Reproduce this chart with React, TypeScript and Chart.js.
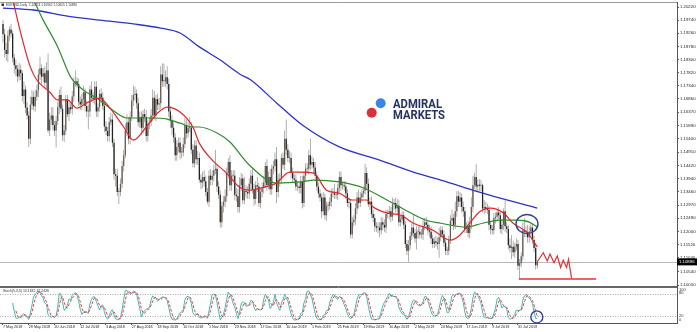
import React, { useEffect, useRef } from "react";
import { Chart, registerables } from "chart.js";

Chart.register(...registerables);

// ---------- DATA ----------
// EURUSD daily bars, 7 May 2018 .. 16 Aug 2019 (one row per week)
const firstOpen = 1.196;
const closes = [
  1.1922, 1.1865, 1.1850, 1.1917, 1.1940,
  1.1925, 1.1836, 1.1809, 1.1795, 1.1768,
  1.1792, 1.1780, 1.1696, 1.1720, 1.1654,
  1.1625, 1.1540, 1.1665, 1.1693, 1.1659,
  1.1694, 1.1717, 1.1775, 1.1798, 1.1767,
  1.1780, 1.1745, 1.1790, 1.1570, 1.1610,
  1.1625, 1.1590, 1.1570, 1.1605, 1.1655,
  1.1700, 1.1650, 1.1553, 1.1570, 1.1685,
  1.1630, 1.1655, 1.1648, 1.1695, 1.1745,
  1.1750, 1.1740, 1.1675, 1.1665, 1.1685,
  1.1710, 1.1660, 1.1640, 1.1640, 1.1720,
  1.1690, 1.1685, 1.1730, 1.1640, 1.1655,
  1.1705, 1.1690, 1.1660, 1.1585, 1.1568,
  1.1550, 1.1600, 1.1610, 1.1525, 1.1410,
  1.1405, 1.1345, 1.1345, 1.1375, 1.1440,
  1.1480, 1.1570, 1.1600, 1.1540, 1.1620,
  1.1680, 1.1700, 1.1705, 1.1670, 1.1600,
  1.1620, 1.1580, 1.1630, 1.1620, 1.1550,
  1.1595, 1.1600, 1.1625, 1.1690, 1.1625,
  1.1685, 1.1665, 1.1670, 1.1775, 1.1750,
  1.1750, 1.1765, 1.1740, 1.1640, 1.1605,
  1.1580, 1.1545, 1.1480, 1.1510, 1.1525,
  1.1490, 1.1490, 1.1520, 1.1590, 1.1560,
  1.1580, 1.1580, 1.1500, 1.1450, 1.1515,
  1.1465, 1.1470, 1.1390, 1.1380, 1.1400,
  1.1385, 1.1345, 1.1310, 1.1405, 1.1390,
  1.1405, 1.1425, 1.1430, 1.1365, 1.1335,
  1.1235, 1.1295, 1.1310, 1.1330, 1.1415,
  1.1455, 1.1370, 1.1405, 1.1405, 1.1335,
  1.1330, 1.1290, 1.1370, 1.1395, 1.1315,
  1.1350, 1.1345, 1.1340, 1.1375, 1.1405,
  1.1355, 1.1320, 1.1370, 1.1365, 1.1305,
  1.1345, 1.1360, 1.1380, 1.1440, 1.1370,
  1.1400, 1.1355, 1.1430, 1.1440,
  1.1465, 1.1345, 1.1390, 1.1395,
  1.1470, 1.1445, 1.1540, 1.1500, 1.1470,
  1.1470, 1.1415, 1.1395, 1.1390, 1.1365,
  1.1365, 1.1360, 1.1385, 1.1305, 1.1405,
  1.1430, 1.1430, 1.1480, 1.1445, 1.1455,
  1.1435, 1.1405, 1.1365, 1.1340, 1.1325,
  1.1275, 1.1325, 1.1260, 1.1295, 1.1295,
  1.1310, 1.1340, 1.1340, 1.1335, 1.1335,
  1.1360, 1.1400, 1.1370, 1.1370, 1.1365,
  1.1340, 1.1305, 1.1305, 1.1190, 1.1235,
  1.1245, 1.1285, 1.1325, 1.1305, 1.1325,
  1.1340, 1.1350, 1.1415, 1.1375, 1.1300,
  1.1310, 1.1265, 1.1250, 1.1220, 1.1215,
  1.1215, 1.1205, 1.1235, 1.1225, 1.1215,
  1.1265, 1.1265, 1.1275, 1.1255, 1.1300,
  1.1305, 1.1285, 1.1295, 1.1235, 1.1245,
  1.1260, 1.1225, 1.1155, 1.1130, 1.1150,
  1.1185, 1.1215, 1.1195, 1.1175, 1.1200,
  1.1200, 1.1190, 1.1190, 1.1220, 1.1235,
  1.1225, 1.1205, 1.1200, 1.1175, 1.1155,
  1.1165, 1.1160, 1.1155, 1.1180, 1.1205,
  1.1190, 1.1160, 1.1130, 1.1130, 1.1170,
  1.1240, 1.1250, 1.1225, 1.1275, 1.1330,
  1.1310, 1.1325, 1.1290, 1.1275, 1.1210,
  1.1220, 1.1195, 1.1225, 1.1290, 1.1370,
  1.1400, 1.1365, 1.1372, 1.1368, 1.1370,
  1.1285, 1.1290, 1.1283, 1.1280, 1.1225,
  1.1210, 1.1205, 1.1250, 1.1255, 1.1270,
  1.1260, 1.1210, 1.1225, 1.1275, 1.1220,
  1.1210, 1.1150, 1.1140, 1.1145, 1.1125,
  1.1145, 1.1155, 1.1075, 1.1085, 1.1110,
  1.1205, 1.1200, 1.1200, 1.1180, 1.1200,
  1.1215, 1.1170, 1.1140, 1.1077, 1.1090,
];

// wick lengths in pips above max(open,close) / below min(open,close)
const upperWick = [
  15, 20, 25, 18, 12,  20, 10, 15, 20, 15,  25, 20, 10, 30, 15,  20, 15, 30, 25, 20,
  25, 20, 20, 42, 15,  20, 25, 30, 62, 25,  30, 30, 15, 20, 20,  20, 30, 15, 20, 15,
  15, 20, 15, 20, 20,  40, 15, 20, 20, 20,  25, 15, 20, 25, 15,  30, 20, 20, 20, 15,
  15, 20, 20, 15, 20,  15, 20, 25, 20, 15,  20, 25, 15, 20, 20,  20, 25, 30, 20, 20,
  20, 35, 25, 15, 20,  20, 20, 15, 20, 25,  15, 20, 25, 30, 25,  15, 20, 20, 30, 40,
  65, 25, 40, 20, 20,  20, 20, 15, 25, 20,  20, 20, 25, 25, 20,  20, 40, 20, 20, 20,
  20, 25, 20, 20, 20,  25, 20, 15, 20, 25,  20, 20, 70, 15, 20,  15, 15, 20, 25, 20,
  15, 25, 20, 20, 20,  25, 25, 30, 20, 15,  50, 20, 20, 20, 20,  30, 20, 15, 30, 15,
  15, 20, 25, 15, 25,  20, 30, 15, 20,  25, 45, 20, 20,
  15, 20, 30, 70, 20,  25, 20, 20, 15, 20,  20, 15, 20, 20, 15,  20, 20, 20, 60, 20,
  15, 20, 15, 15, 15,  15, 20, 15, 15, 15,  15, 15, 20, 35, 15,  15, 20, 20, 15, 15,
  20, 15, 20, 15, 20,  15, 20, 20, 30, 20,  15, 15, 33, 20, 20,  15, 20, 15, 15, 15,
  20, 20, 20, 15, 20,  15, 15, 20, 15, 25,  15, 20, 25, 20, 15,  15, 15, 15, 15, 20,
  15, 15, 50, 15, 20,  20, 20, 20, 30, 15,  20, 15, 20, 20, 15,  15, 20, 20, 35, 15,
  15, 15, 15, 15, 15,  20, 30, 15, 35, 18,  20, 20, 15, 20, 15,  15, 20, 30, 35, 35,
  15, 47, 20, 20, 20,  5, 25, 20, 20, 15,  15, 15, 20, 15, 15,  20, 15, 20, 10, 40,
  15, 15, 25, 42, 20,  15, 20, 15, 15, 15,  30, 45, 20, 25, 20,  20, 15, 15, 15, 6,
];
const lowerWick = [
  30, 27, 25, 30, 20,  15, 15, 30, 25, 20,  15, 25, 20, 30, 20,  15, 30, 20, 20, 15,
  20, 15, 25, 20, 30,  20, 20, 20, 8, 20,  20, 20, 20, 62, 15,  25, 10, 20, 25, 15,
  10, 25, 15, 20, 20,  15, 15, 15, 20, 20,  20, 20, 20, 65, 20,  15, 15, 20, 20, 20,
  15, 20, 15, 20, 15,  20, 20, 10, 15, 20,  40, 15, 44, 15, 15,  20, 10, 20, 20, 20,
  15, 20, 20, 20, 15,  20, 25, 20, 20, 20,  20, 20, 15, 20, 15,  20, 20, 20, 20, 20,
  20, 20, 20, 20, 25,  25, 20, 20, 20, 20,  25, 20, 15, 15, 20,  15, 15, 15, 15, 15,
  20, 20, 10, 25, 20,  20, 15, 10, 20, 20,  20, 20, 15, 20, 15,  20, 20, 25, 20, 20,
  20, 20, 20, 15, 20,  20, 20, 20, 20, 15,  15, 20, 20, 20, 20,  15, 25, 20, 20, 15,
  20, 20, 20, 20, 20,  15, 20, 20, 20,  20, 40, 20, 25,
  20, 15, 20, 20, 15,  20, 20, 15, 15, 15,  15, 20, 20, 20, 15,  20, 15, 20, 20, 15,
  20, 20, 15, 15, 15,  25, 15, 15, 20, 20,  15, 20, 15, 15, 15,  20, 15, 20, 15, 15,
  20, 15, 20, 14, 15,  15, 20, 20, 20, 15,  15, 15, 15, 20, 10,  20, 15, 15, 20, 15,
  20, 25, 15, 20, 15,  20, 15, 20, 20, 15,  20, 15, 20, 15, 15,  15, 15, 15, 15, 40,
  15, 15, 15, 15, 40,  25, 15, 15, 20, 15,  15, 15, 20, 20, 15,  15, 15, 20, 50, 15,
  15, 15, 15, 15, 15,  15, 15, 20, 15, 20,  20, 20, 20, 20, 15,  15, 15, 20, 15, 20,
  15, 20, 20, 20, 20,  15, 20, 15, 15, 20,  20, 15, 15, 20, 15,  15, 15, 20, 20, 20,
  15, 15, 15, 40, 15,  20, 15, 15, 48, 15,  15, 20, 20, 20, 20,  15, 15, 15, 15, 11,
];

// moving averages: [bar index, price]
const maRed = [
  [3, 1.2103], [6, 1.2048], [11, 1.1927], [17, 1.1802], [21, 1.1755], [29, 1.1711],
  [34, 1.1682], [40, 1.1682], [46, 1.1652], [52, 1.1671], [60, 1.1689], [66, 1.1656],
  [75, 1.1583], [81, 1.1535], [89, 1.1583], [96, 1.1634], [102, 1.1656], [110, 1.1638],
  [118, 1.1583], [122, 1.1524], [130, 1.1462], [139, 1.1414], [147, 1.1363], [153, 1.1352],
  [160, 1.1360], [170, 1.1378], [178, 1.1418], [184, 1.1418], [193, 1.1414], [201, 1.1352],
  [209, 1.1341], [217, 1.1316], [226, 1.1316], [230, 1.1290], [239, 1.1268], [247, 1.1261],
  [255, 1.1231], [267, 1.1206], [278, 1.1169], [284, 1.1188], [290, 1.1231], [296, 1.1272],
  [303, 1.1286], [311, 1.1268], [317, 1.1231], [326, 1.1195], [332, 1.1144],
];
const maGreen = [
  [15, 1.2092], [19, 1.2048], [25, 1.1974], [34, 1.1876], [42, 1.1766], [50, 1.1718],
  [60, 1.1682], [68, 1.1645], [77, 1.1616], [85, 1.1616], [93, 1.1616], [102, 1.1612],
  [110, 1.1597], [118, 1.1583], [122, 1.1583], [133, 1.1561], [141, 1.1528], [153, 1.1444],
  [170, 1.1378], [185, 1.1382], [193, 1.1389], [209, 1.1382], [224, 1.1360], [242, 1.1305],
  [263, 1.1242], [272, 1.1231], [288, 1.1217], [298, 1.1231], [309, 1.1242], [319, 1.1242],
  [327, 1.1235], [332, 1.1217],
];
const maBlue = [
  [0, 1.2018], [19, 1.2011], [40, 1.1989], [60, 1.1974], [81, 1.1960], [98, 1.1945],
  [110, 1.1927], [122, 1.1876], [135, 1.1828], [147, 1.1777], [154, 1.1755], [170, 1.1671],
  [186, 1.1590], [209, 1.1510], [234, 1.1462], [255, 1.1418], [272, 1.1389], [296, 1.1345],
  [313, 1.1316], [332, 1.1286],
];

// hand-drawn projection and support
const projection = [
  [332, 1.1090], [335.7, 1.1123], [338.2, 1.1093], [339.9, 1.1118], [342.4, 1.1086],
  [344.4, 1.1111], [346.5, 1.1069], [348.1, 1.1096], [350.2, 1.1069], [351.4, 1.1099],
  [353.3, 1.1029],
];
const support = [[320.6, 1.1027], [368.6, 1.1027]];
const ellipseNote = { idx: 325.6, price: 1.1228, halfBars: 6.8, halfPrice: 0.0035 };
const stochNote = { idx: 331.7, value: 17 };

const bidPrice = 1.10896;
const titleText = "EURUSD,Daily  1.10774 1.10962 1.10655 1.10896";
const stochText = "Stoch(5,3,3) 13.1632 12.2426";

const xTickIdx = [0, 16, 32, 48, 64, 80, 96, 112, 128, 144, 160, 176, 192, 208, 224, 240, 256, 272, 288, 304, 320];
const xTickLabels = [
  "7 May 2018", "29 May 2018", "20 Jun 2018", "12 Jul 2018", "3 Aug 2018", "27 Aug 2018",
  "18 Sep 2018", "10 Oct 2018", "1 Nov 2018", "23 Nov 2018", "17 Dec 2018", "10 Jan 2019",
  "1 Feb 2019", "25 Feb 2019", "19 Mar 2019", "10 Apr 2019", "2 May 2019", "24 May 2019",
  "17 Jun 2019", "9 Jul 2019", "31 Jul 2019",
];
const yTickValues = [
  1.2022, 1.1974, 1.1926, 1.1878, 1.183, 1.1782, 1.1734, 1.1686, 1.1637, 1.1589, 1.154,
  1.1491, 1.1442, 1.1394, 1.1346, 1.1297, 1.1249, 1.12, 1.1152, 1.1104, 1.1054, 1.1005,
];
const stochLevels = [100, 80, 20, 0];

// ---------- LAYOUT / STYLE ----------
const X_MIN = -1.864;
const X_MAX = 418.8;
const P_MIN = 1.09977;
const P_MAX = 1.20403;
const FONT = "'Liberation Sans', Arial, sans-serif";
const AXIS = "#555";

function buildOHLC() {
  const opens = closes.map((c, i) => (i === 0 ? firstOpen : closes[i - 1]));
  const highs = closes.map((c, i) => Math.max(opens[i], c) + upperWick[i] * 0.0001);
  const lows = closes.map((c, i) => Math.min(opens[i], c) - lowerWick[i] * 0.0001);
  return { opens, highs, lows };
}

function stochastic(h: number[], l: number[], c: number[], kp: number, slow: number, dp: number) {
  const n = c.length;
  const k: (number | null)[] = new Array(n).fill(null);
  const d: (number | null)[] = new Array(n).fill(null);
  for (let i = kp + slow - 2; i < n; i++) {
    let num = 0, den = 0;
    for (let j = i - slow + 1; j <= i; j++) {
      let hh = -Infinity, ll = Infinity;
      for (let m = j - kp + 1; m <= j; m++) {
        hh = Math.max(hh, h[m]);
        ll = Math.min(ll, l[m]);
      }
      num += c[j] - ll;
      den += hh - ll;
    }
    k[i] = den === 0 ? 100 : (num / den) * 100;
  }
  for (let i = dp - 1; i < n; i++) {
    let ok = true, s = 0;
    for (let j = i - dp + 1; j <= i; j++) {
      if (k[j] == null) ok = false; else s += k[j] as number;
    }
    if (ok) d[i] = s / dp;
  }
  return { k, d };
}

const toPts = (arr: number[][]) => arr.map(([x, y]) => ({ x, y }));

export default function App() {
  const mainRef = useRef<HTMLCanvasElement>(null);
  const subRef = useRef<HTMLCanvasElement>(null);

  useEffect(() => {
    const { opens, highs, lows } = buildOHLC();
    const bodies = closes.map((c, i) => ({ x: i, y: [opens[i], c] }));
    const wicks = closes.map((c, i) => ({ x: i, y: [lows[i], highs[i]] }));
    const bodyColors = closes.map((c, i) => (c >= opens[i] ? "#6a5a50" : "#222222"));
    const { k, d } = stochastic(highs, lows, closes, 5, 3, 3);

    const mainDecor = {
      id: "mainDecor",
      beforeDatasetsDraw(chart: any) {
        const { ctx, chartArea: a, scales } = chart;
        ctx.save();
        // logo
        ctx.fillStyle = "#3a86e6";
        ctx.beginPath(); ctx.arc(380.7, 103.3, 5, 0, Math.PI * 2); ctx.fill();
        ctx.fillStyle = "#d8313b";
        ctx.beginPath(); ctx.arc(371.7, 112.7, 5, 0, Math.PI * 2); ctx.fill();
        ctx.fillStyle = "#26335f";
        ctx.font = "bold 13.5px Roboto, 'Liberation Sans', sans-serif";
        ctx.textBaseline = "alphabetic";
        ctx.textAlign = "left";
        ctx.fillText("ADMIRAL", 393, 108, 49);
        ctx.fillText("MARKETS", 393, 118.5, 52);
        // bid line
        const by = Math.round(scales.y.getPixelForValue(bidPrice)) + 0.5;
        ctx.strokeStyle = "#b8b8b8";
        ctx.lineWidth = 1;
        ctx.beginPath(); ctx.moveTo(a.left, by); ctx.lineTo(a.right, by); ctx.stroke();
        ctx.restore();
      },
      afterDatasetsDraw(chart: any) {
        const { ctx, scales } = chart;
        const cx = scales.x.getPixelForValue(ellipseNote.idx);
        const cy = scales.y.getPixelForValue(ellipseNote.price);
        const rx = scales.x.getPixelForValue(ellipseNote.idx + ellipseNote.halfBars) - cx;
        const ry = scales.y.getPixelForValue(ellipseNote.price - ellipseNote.halfPrice) - cy;
        ctx.save();
        ctx.strokeStyle = "#2f3f9c";
        ctx.lineWidth = 1.4;
        ctx.beginPath(); ctx.ellipse(cx, cy, Math.abs(rx), Math.abs(ry), 0, 0, Math.PI * 2); ctx.stroke();
        ctx.restore();
      },
      afterDraw(chart: any) {
        const { ctx, chartArea: a, scales } = chart;
        ctx.save();
        ctx.lineWidth = 1;
        ctx.strokeStyle = "#9a9a9a";
        ctx.beginPath(); ctx.moveTo(0, a.top + 0.5); ctx.lineTo(a.right, a.top + 0.5); ctx.stroke();
        ctx.strokeStyle = "#666";
        ctx.beginPath(); ctx.moveTo(0, a.bottom - 0.5); ctx.lineTo(a.right, a.bottom - 0.5); ctx.stroke();
        // title
        ctx.fillStyle = "#333";
        ctx.fillRect(1.5, 3.5, 2.5, 2.5);
        ctx.font = `3.8px ${FONT}`;
        ctx.textBaseline = "middle";
        ctx.textAlign = "left";
        ctx.fillText(titleText, 6, 5, 71);
        // price box
        const by = scales.y.getPixelForValue(bidPrice);
        ctx.fillStyle = "#000";
        ctx.fillRect(a.right, by - 3.5, 20, 7);
        ctx.fillStyle = "#fff";
        ctx.font = `4.3px ${FONT}`;
        ctx.fillText(bidPrice.toFixed(5), a.right + 2, by + 0.3);
        ctx.restore();
      },
    };

    const main = new Chart(mainRef.current as HTMLCanvasElement, {
      type: "bar",
      data: {
        datasets: [
          { type: "line", label: "projection", data: toPts(projection), borderColor: "#e0353b", borderWidth: 1.2, pointRadius: 0, tension: 0, order: 0 },
          { type: "line", label: "support", data: toPts(support), borderColor: "#e0353b", borderWidth: 1.6, pointRadius: 0, order: 0 },
          { type: "line", label: "MA fast", data: toPts(maRed), borderColor: "#e3262b", borderWidth: 1.2, pointRadius: 0, cubicInterpolationMode: "monotone", order: 1 },
          { type: "line", label: "MA mid", data: toPts(maGreen), borderColor: "#2e8b2e", borderWidth: 1.2, pointRadius: 0, cubicInterpolationMode: "monotone", order: 2 },
          { type: "line", label: "MA slow", data: toPts(maBlue), borderColor: "#2b33c8", borderWidth: 1.3, pointRadius: 0, cubicInterpolationMode: "monotone", order: 3 },
          { type: "bar", label: "bodies", data: bodies, backgroundColor: bodyColors, borderWidth: 0, grouped: false, categoryPercentage: 1, barPercentage: 0.8, minBarLength: 1, order: 4 },
          { type: "bar", label: "wicks", data: wicks, backgroundColor: "#9c9c9c", borderWidth: 0, grouped: false, categoryPercentage: 1, barPercentage: 0.5, order: 5 },
        ] as any,
      },
      options: {
        responsive: false,
        animation: false,
        devicePixelRatio: 1,
        events: [],
        layout: { padding: { top: 2, left: 0, right: 0, bottom: 0 } },
        plugins: { legend: { display: false }, tooltip: { enabled: false } },
        scales: {
          x: { type: "linear", min: X_MIN, max: X_MAX, offset: false, display: false },
          y: {
            type: "linear",
            position: "right",
            min: P_MIN,
            max: P_MAX,
            afterBuildTicks: (s: any) => { s.ticks = yTickValues.map((v) => ({ value: v })); },
            afterFit: (s: any) => { s.width = 23; s.paddingTop = 0; s.paddingBottom = 0; },
            ticks: { autoSkip: false, padding: 1, color: "#222", font: { family: FONT, size: 4.3 }, callback: (v: any) => Number(v).toFixed(5) },
            grid: { drawOnChartArea: false, drawTicks: true, tickLength: 2, color: AXIS },
            border: { display: true, color: AXIS },
          },
        },
      } as any,
      plugins: [mainDecor],
    });

    const stochDecor = {
      id: "stochDecor",
      beforeDatasetsDraw(chart: any) {
        const { ctx, chartArea: a, scales } = chart;
        ctx.save();
        ctx.strokeStyle = "#a8a8a8";
        ctx.lineWidth = 1;
        ctx.setLineDash([1, 1.5]);
        [80, 20].forEach((lv) => {
          const yy = Math.round(scales.y.getPixelForValue(lv)) + 0.5;
          ctx.beginPath(); ctx.moveTo(a.left, yy); ctx.lineTo(a.right, yy); ctx.stroke();
        });
        ctx.restore();
      },
      afterDatasetsDraw(chart: any) {
        const { ctx, scales } = chart;
        ctx.save();
        ctx.strokeStyle = "#2f3f9c";
        ctx.lineWidth = 1.4;
        ctx.beginPath();
        ctx.arc(scales.x.getPixelForValue(stochNote.idx), scales.y.getPixelForValue(stochNote.value), 6, 0, Math.PI * 2);
        ctx.stroke();
        ctx.restore();
      },
      afterDraw(chart: any) {
        const { ctx, chartArea: a, scales } = chart;
        ctx.save();
        ctx.strokeStyle = "#666";
        ctx.lineWidth = 1;
        ctx.beginPath(); ctx.moveTo(0, a.top + 0.5); ctx.lineTo(a.right, a.top + 0.5); ctx.stroke();
        ctx.fillStyle = "#333";
        ctx.font = `3.8px ${FONT}`;
        ctx.textBaseline = "middle";
        ctx.textAlign = "left";
        ctx.fillText(stochText, 3, a.top + 3.5, 46);
        ctx.font = `4px ${FONT}`;
        stochLevels.forEach((lv) => {
          let yy = scales.y.getPixelForValue(lv);
          if (lv === 100) yy = a.top + 2.5;
          else if (lv === 0) yy = a.bottom - 3.5;
          else if (lv === 80) yy -= 1;
          ctx.fillText(String(lv), a.right + 2, yy);
        });
        ctx.restore();
      },
    };

    const sub = new Chart(subRef.current as HTMLCanvasElement, {
      type: "line",
      data: {
        datasets: [
          { label: "%D", data: d.map((v, i) => ({ x: i, y: v })), borderColor: "#e5424a", borderWidth: 1, borderDash: [3, 1.5], pointRadius: 0, order: 0 },
          { label: "%K", data: k.map((v, i) => ({ x: i, y: v })), borderColor: "#3cbcb4", borderWidth: 1, pointRadius: 0, order: 1 },
        ] as any,
      },
      options: {
        responsive: false,
        animation: false,
        devicePixelRatio: 1,
        events: [],
        layout: { padding: 0 },
        plugins: { legend: { display: false }, tooltip: { enabled: false } },
        scales: {
          x: {
            type: "linear",
            min: X_MIN,
            max: X_MAX,
            offset: false,
            position: "bottom",
            afterBuildTicks: (s: any) => { s.ticks = xTickIdx.map((v) => ({ value: v })); },
            afterFit: (s: any) => { s.height = 9; s.paddingLeft = 0; s.paddingRight = 0; },
            ticks: {
              autoSkip: false, maxRotation: 0, minRotation: 0, align: "start", padding: 0,
              color: "#222", font: { family: FONT, size: 3.7 },
              callback: (_v: any, i: number) => xTickLabels[i],
            },
            grid: { drawOnChartArea: false, drawTicks: true, tickLength: 2, color: AXIS },
            border: { display: true, color: AXIS },
          },
          y: {
            type: "linear",
            position: "right",
            min: 0,
            max: 100,
            afterFit: (s: any) => { s.width = 23; s.paddingTop = 0; s.paddingBottom = 0; },
            ticks: { display: false },
            grid: { drawOnChartArea: false, drawTicks: false, color: AXIS },
            border: { display: true, color: AXIS },
          },
        },
      } as any,
      plugins: [stochDecor],
    });

    return () => {
      main.destroy();
      sub.destroy();
    };
  }, []);

  return (
    <div style={{ position: "fixed", left: 0, top: 0, width: 700, height: 332, background: "#fff" }}>
      <canvas ref={mainRef} width={700} height={287} style={{ position: "absolute", left: 0, top: 0, width: 700, height: 287 }} />
      <canvas ref={subRef} width={700} height={45} style={{ position: "absolute", left: 0, top: 287, width: 700, height: 45 }} />
    </div>
  );
}
